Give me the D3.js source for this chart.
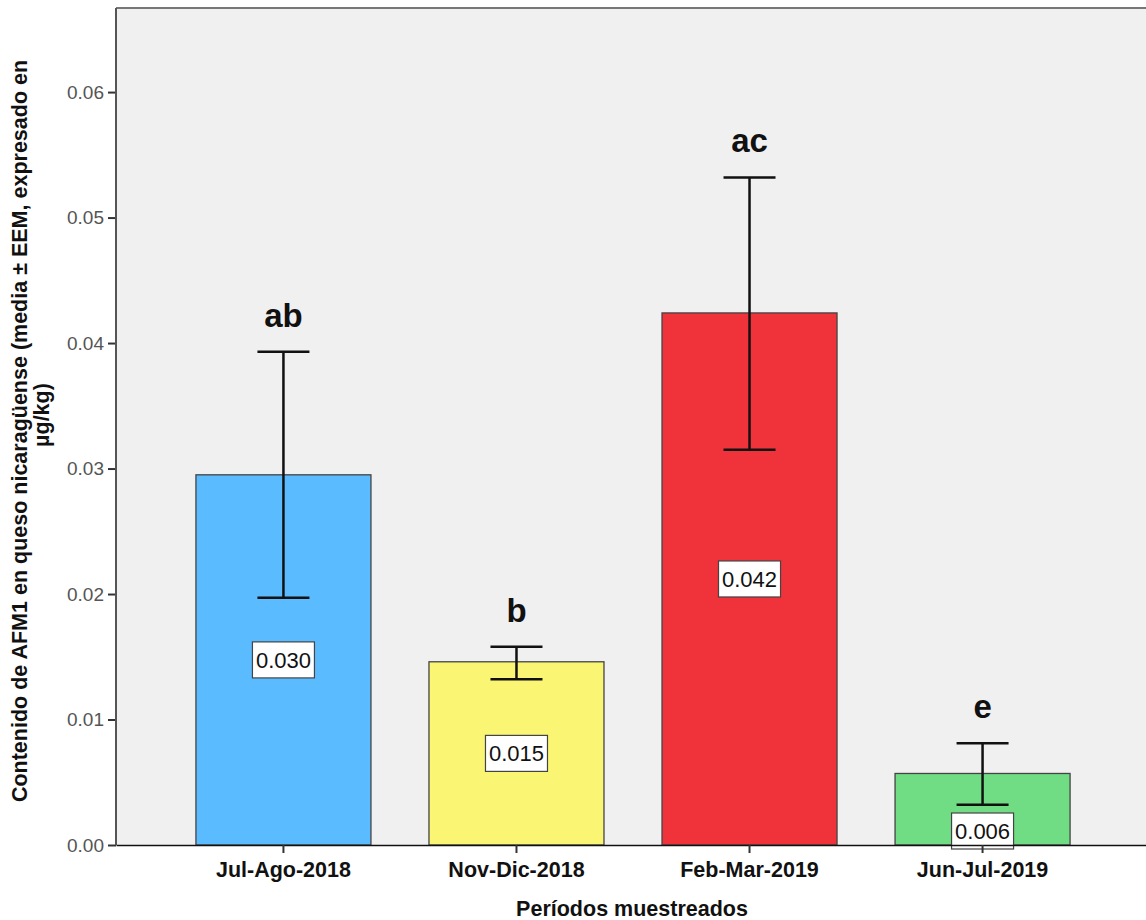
<!DOCTYPE html>
<html>
<head>
<meta charset="utf-8">
<script src="https://cdn.jsdelivr.net/npm/d3@7"></script>
<style>
  body { margin: 0; background: #fff; }
  svg { display: block; font-family: Arial, "Liberation Sans", sans-serif; }
</style>
</head>
<body>
<svg id="chart" width="1146" height="920"></svg>
<script>
'use strict';

// Data
var periods = ['Jul-Ago-2018', 'Nov-Dic-2018', 'Feb-Mar-2019', 'Jun-Jul-2019'];
var means = [0.0295, 0.0146, 0.0424, 0.0057];
var errLow = [0.0197, 0.0132, 0.0315, 0.0032];
var errHigh = [0.0393, 0.0158, 0.0532, 0.0081];
var valueLabels = ['0.030', '0.015', '0.042', '0.006'];
var groupLetters = ['ab', 'b', 'ac', 'e'];
var barColors = ['#5bbbff', '#faf573', '#f0323a', '#70dd84'];
var yTicks = [0, 0.01, 0.02, 0.03, 0.04, 0.05, 0.06];

var svg = d3.select('#chart');

var plotLeft = 116, plotRight = 1150, plotTop = 8, plotBottom = 845;

var x = d3.scaleBand()
    .domain(periods)
    .range([plotLeft, plotRight])
    .paddingInner(0.249)
    .paddingOuter(0.343);

var y = d3.scaleLinear()
    .domain([0, 0.0667])
    .range([plotBottom, plotTop]);

// Plot background
svg.append('rect')
    .attr('x', plotLeft)
    .attr('y', plotTop)
    .attr('width', plotRight - plotLeft)
    .attr('height', plotBottom - plotTop)
    .style('fill', '#f0f0f0');

// top border
svg.append('line')
    .attr('x1', plotLeft).attr('x2', plotRight)
    .attr('y1', plotTop).attr('y2', plotTop)
    .style('stroke', '#777').style('stroke-width', 2);

var rows = periods.map(function (p, i) {
    return { p: p, m: means[i], lo: errLow[i], hi: errHigh[i],
             lab: valueLabels[i], g: groupLetters[i], c: barColors[i] };
});

// Bars
svg.selectAll('rect.bar')
    .data(rows)
    .enter().append('rect')
    .attr('class', 'bar')
    .attr('x', function (d) { return x(d.p); })
    .attr('y', function (d) { return y(d.m); })
    .attr('width', x.bandwidth())
    .attr('height', function (d) { return y(0) - y(d.m); })
    .style('fill', function (d) { return d.c; })
    .style('stroke', '#444')
    .style('stroke-width', 1.3);

// Error bars
var capHalf = 26;
var err = svg.selectAll('g.err')
    .data(rows)
    .enter().append('g')
    .attr('class', 'err')
    .style('stroke', '#111')
    .style('stroke-width', 2.5);
err.append('line')
    .attr('x1', function (d) { return x(d.p) + x.bandwidth() / 2; })
    .attr('x2', function (d) { return x(d.p) + x.bandwidth() / 2; })
    .attr('y1', function (d) { return y(d.lo); })
    .attr('y2', function (d) { return y(d.hi); });
err.append('line')
    .attr('x1', function (d) { return x(d.p) + x.bandwidth() / 2 - capHalf; })
    .attr('x2', function (d) { return x(d.p) + x.bandwidth() / 2 + capHalf; })
    .attr('y1', function (d) { return y(d.hi); })
    .attr('y2', function (d) { return y(d.hi); });
err.append('line')
    .attr('x1', function (d) { return x(d.p) + x.bandwidth() / 2 - capHalf; })
    .attr('x2', function (d) { return x(d.p) + x.bandwidth() / 2 + capHalf; })
    .attr('y1', function (d) { return y(d.lo); })
    .attr('y2', function (d) { return y(d.lo); });

// Group letters
svg.selectAll('text.grp')
    .data(rows)
    .enter().append('text')
    .attr('class', 'grp')
    .attr('x', function (d) { return x(d.p) + x.bandwidth() / 2; })
    .attr('y', function (d) { return y(d.hi) - 25; })
    .attr('text-anchor', 'middle')
    .style('font-size', '33px')
    .style('font-weight', 'bold')
    .style('fill', '#111')
    .text(function (d) { return d.g; });

// Value labels in boxes
var boxW = 62, boxH = 36;
function labelY(d) {
    var mid = (y(d.m) + y(0)) / 2;
    // short bars: the label sits just above the baseline
    if (y(0) - y(d.m) < boxH * 2.5) return y(0) - 14;
    return mid;
}
var lab = svg.selectAll('g.vlab')
    .data(rows)
    .enter().append('g')
    .attr('class', 'vlab')
    .attr('transform', function (d) {
        return 'translate(' + (x(d.p) + x.bandwidth() / 2) + ',' + labelY(d) + ')';
    });
lab.append('rect')
    .attr('x', -boxW / 2)
    .attr('y', -boxH / 2)
    .attr('width', boxW)
    .attr('height', boxH)
    .style('fill', '#fff')
    .style('stroke', '#444')
    .style('stroke-width', 1.2);
lab.append('text')
    .attr('text-anchor', 'middle')
    .attr('dy', '0.36em')
    .style('font-size', '22px')
    .style('fill', '#111')
    .text(function (d) { return d.lab; });

// y axis
var yAxis = d3.axisLeft(y)
    .tickValues(yTicks)
    .tickSize(8)
    .tickPadding(4)
    .tickFormat(d3.format('.2f'));
var yg = svg.append('g')
    .attr('transform', 'translate(' + plotLeft + ',0)')
    .call(yAxis);
yg.select('.domain').remove();
yg.append('line')
    .attr('x1', 0).attr('x2', 0)
    .attr('y1', plotTop).attr('y2', plotBottom)
    .style('stroke', '#555').style('stroke-width', 2);
yg.selectAll('.tick line').style('stroke', '#333').style('stroke-width', 2);
yg.selectAll('.tick text')
    .style('font-size', '19px')
    .style('font-family', 'Arial, "Liberation Sans", sans-serif')
    .style('fill', '#555');

// x axis
var xAxis = d3.axisBottom(x)
    .tickSize(8)
    .tickPadding(9)
    .tickSizeOuter(0);
var xg = svg.append('g')
    .attr('transform', 'translate(0,' + plotBottom + ')')
    .call(xAxis);
xg.select('.domain').style('stroke', '#111').style('stroke-width', 1.5);
xg.selectAll('.tick line').style('stroke', '#333').style('stroke-width', 2);
xg.selectAll('.tick text')
    .style('font-size', '21.5px')
    .style('font-weight', 'bold')
    .style('font-family', 'Arial, "Liberation Sans", sans-serif')
    .style('fill', '#111');

// Axis titles
svg.append('text')
    .attr('x', 632)
    .attr('y', 916)
    .attr('text-anchor', 'middle')
    .style('font-size', '21.5px')
    .style('font-weight', 'bold')
    .style('fill', '#111')
    .text('Períodos muestreados');

var yTitle = svg.append('text')
    .attr('transform', 'translate(0,428) rotate(-90)')
    .attr('text-anchor', 'middle')
    .style('font-size', '21.5px')
    .style('font-weight', 'bold')
    .style('fill', '#111');
yTitle.append('tspan')
    .attr('x', -3).attr('y', 27)
    .text('Contenido de AFM1 en queso nicaragüense (media ± EEM, expresado en');
yTitle.append('tspan')
    .attr('x', 13).attr('y', 49)
    .text('µg/kg)');
</script>
</body>
</html>
